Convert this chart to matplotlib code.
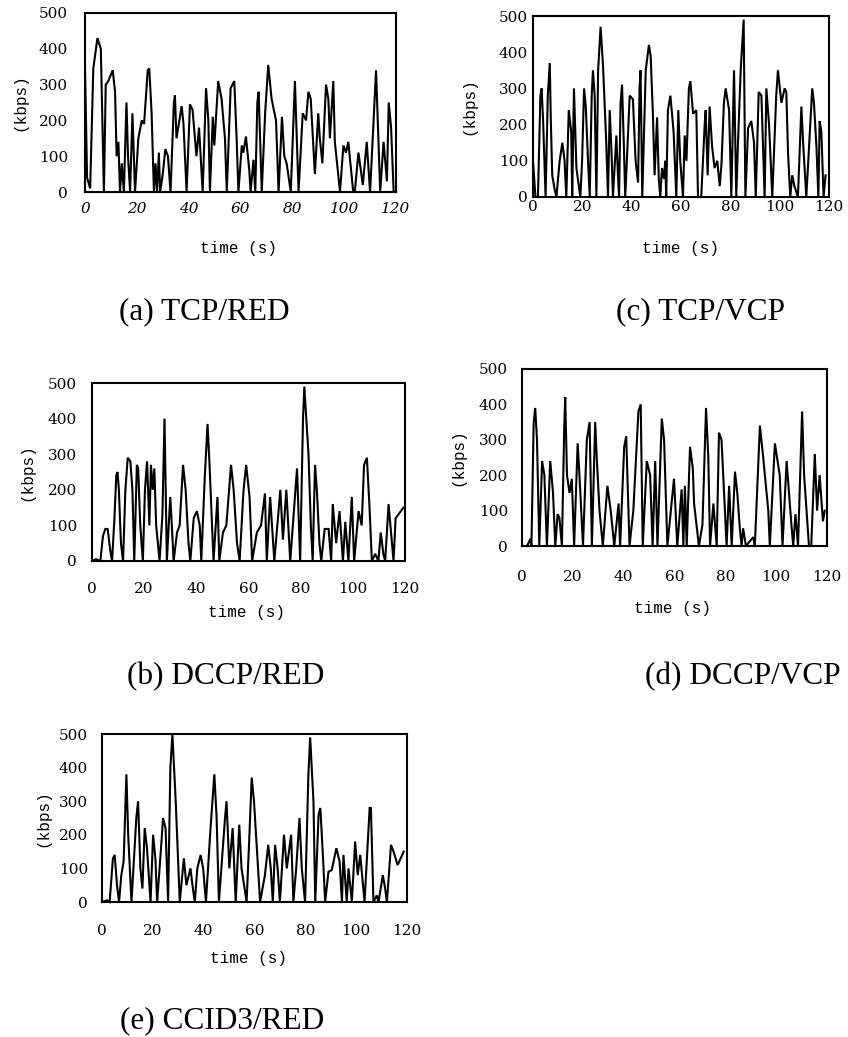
import numpy as np
import matplotlib
matplotlib.use('Agg')
import matplotlib.pyplot as plt

W, H = 848, 1037

# throughput traces, (time s, kbps) read as turning points
ta = [0, 0.8, 2, 3.2, 4.8, 6.1, 7.3, 8, 9, 10.7,
      11.6, 12.2, 12.9, 13.5, 14.2, 15, 16, 16.6, 17.4, 18.3,
      19.3, 20.6, 21.9, 22.8, 24.2, 24.8, 25.7, 26.6, 27.2, 27.8,
      28.5, 29, 30, 31, 32, 33, 34.3, 34.7, 35.3, 37.3,
      38, 39.2, 40.5, 41.5, 43, 44, 45.4, 46.7, 47.6, 48.2,
      49.3, 49.9, 51.4, 52.7, 54, 54.7, 56.2, 57.6, 58.5, 59.2,
      60.5, 61.1, 62.1, 63.4, 63.9, 65, 65.7, 66.5, 67, 68.2,
      69.5, 70.7, 72, 73.7, 74.7, 76, 76.9, 77.8, 79.4, 81,
      82.4, 84, 85.3, 86.2, 87.1, 88.7, 90, 90.6, 91.6, 93,
      93.9, 94.5, 95.8, 96.4, 98.4, 99.7, 100.7, 101.6, 103.5, 104.1,
      105.5, 107.2, 108.7, 110, 112.3, 113.9, 115.2, 116.5, 117.2, 118.1,
      119.1, 120]
va = [350, 40, 10, 345, 430, 400, 0, 300, 310, 340,
      280, 100, 140, 0, 80, 0, 250, 100, 0, 220,
      0, 150, 200, 190, 340, 345, 220, 0, 80, 0,
      110, 0, 50, 120, 100, 0, 250, 270, 150, 240,
      190, 0, 245, 230, 100, 180, 0, 290, 200, 0,
      210, 130, 310, 260, 150, 0, 290, 310, 150, 0,
      130, 110, 155, 60, 0, 90, 0, 250, 280, 0,
      220, 355, 260, 200, 0, 210, 100, 80, 0, 310,
      0, 220, 200, 280, 260, 50, 220, 150, 80, 300,
      260, 150, 310, 140, 0, 130, 110, 140, 0, 0,
      110, 20, 140, 0, 340, 0, 140, 30, 250, 180,
      0, 0]

tb = [0, 1.5, 3.2, 4.2, 5.1, 6, 7, 7.7, 8.6, 9.3,
      9.8, 10.3, 11.1, 11.9, 12.8, 13.7, 14.7, 15.5, 16.2, 17.2,
      17.7, 18.5, 19.5, 20.3, 21.1, 22, 22.6, 23.3, 23.9, 24.6,
      25.9, 27, 27.8, 28.7, 30, 30.6, 31.3, 32.6, 33.6, 34.9,
      35.9, 37, 37.7, 39, 40.2, 41.3, 41.9, 43.2, 44.3, 45,
      46.6, 48.1, 48.8, 50.2, 51.5, 53.3, 54.3, 55.6, 56.6, 58.1,
      59.1, 60.4, 61.4, 63.2, 64.8, 66.3, 67, 68.3, 69.9, 72.2,
      73.2, 74.5, 76, 78, 78.6, 79.8, 80.9, 81.4, 83, 83.9,
      84.6, 85.5, 86.2, 87.2, 87.9, 89.2, 90.7, 91.7, 92.3, 93.6,
      94.9, 96.2, 97.1, 98.3, 99.6, 100.5, 102.2, 103.4, 104.3, 105.4,
      106.4, 107.3, 108.6, 109.8, 110.7, 111.7, 112.4, 113.7, 115.6, 116.4,
      117.4, 119.4]
vb = [0, 5, 0, 70, 90, 90, 30, 0, 120, 240,
      250, 200, 50, 0, 200, 290, 280, 200, 0, 270,
      260, 100, 0, 200, 280, 100, 270, 200, 260, 100,
      0, 130, 400, 0, 180, 100, 0, 80, 100, 270,
      200, 50, 0, 120, 140, 100, 0, 230, 385, 280,
      0, 180, 0, 80, 100, 270, 200, 50, 0, 200,
      270, 180, 0, 80, 100, 190, 0, 180, 0, 200,
      60, 200, 0, 200, 260, 0, 400, 490, 300, 100,
      0, 270, 200, 50, 0, 90, 90, 0, 160, 50,
      140, 0, 110, 0, 180, 0, 140, 100, 270, 290,
      150, 0, 20, 0, 80, 20, 0, 160, 0, 120,
      130, 150]

tc = [0, 1, 2, 3, 3.5, 4.1, 4.7, 5.1, 6, 6.8,
      7.2, 7.8, 8.8, 9.5, 10.8, 11.9, 12.8, 13.5, 14.5, 15.5,
      15.9, 16.6, 17.6, 18.6, 19.2, 19.9, 20.7, 21.4, 22.3, 23,
      23.8, 24.3, 25, 25.7, 26.4, 27.4, 28.4, 29.7, 30.4, 31.1,
      31.8, 32.4, 33.8, 34.5, 34.9, 35.5, 36.1, 36.8, 37.4, 39.2,
      40.5, 41.6, 42.6, 43.2, 43.6, 44.3, 45.7, 47, 47.7, 48.6,
      49.3, 50.3, 51, 51.6, 52.3, 53.1, 53.6, 54, 54.7, 55.7,
      57, 58.1, 58.9, 59.7, 60.8, 61.5, 62.2, 63.2, 63.8, 64.9,
      66.2, 66.9, 68.2, 69.6, 70, 70.8, 71.6, 72.6, 73.6, 74.7,
      75.7, 76.4, 77.4, 78.1, 79.5, 80.4, 81.5, 82.4, 83.1, 84.2,
      85.4, 86.1, 87.2, 88.5, 89.6, 90.3, 91.5, 92.6, 93.9, 94.6,
      95.7, 97, 98.6, 99.3, 100.7, 102, 102.7, 103.4, 104.3, 105.1,
      106, 107.4, 108.8, 109.5, 110.8, 113.2, 113.9, 114.9, 115.7, 116.2,
      116.9, 117.8, 118.6]
vc = [100, 0, 0, 280, 300, 210, 80, 0, 280, 370,
      220, 60, 20, 0, 100, 150, 100, 0, 240, 180,
      0, 300, 80, 30, 0, 100, 300, 250, 100, 0,
      280, 350, 280, 0, 350, 470, 360, 150, 0, 240,
      130, 0, 170, 50, 0, 260, 310, 150, 0, 280,
      270, 100, 40, 300, 350, 0, 350, 420, 390, 230,
      60, 220, 50, 0, 80, 50, 100, 0, 240, 280,
      180, 0, 240, 100, 0, 170, 100, 300, 320, 230,
      240, 0, 0, 200, 240, 60, 250, 140, 80, 100,
      30, 90, 260, 300, 240, 0, 350, 0, 150, 350,
      490, 0, 190, 210, 150, 0, 290, 280, 0, 300,
      200, 0, 280, 350, 260, 300, 290, 120, 0, 60,
      30, 0, 250, 150, 0, 300, 260, 140, 0, 210,
      180, 0, 60]

td = [0, 2, 3.3, 3.7, 4.6, 5.2, 5.9, 6.8, 7.9, 8.8,
      9.8, 11.1, 12.2, 13.1, 14, 14.7, 15.7, 16.6, 17, 17.7,
      18.7, 19.6, 20.5, 21.9, 22.6, 24, 25.5, 26.6, 27.5, 28.8,
      29.4, 30.5, 31.8, 33.6, 34.9, 36.3, 38, 38.6, 40.2, 41,
      42.3, 43.8, 45.8, 46.7, 47.5, 49.1, 50.4, 51.4, 52.4, 53.3,
      55, 55.9, 57.2, 59.8, 61.1, 62.8, 63.5, 64.1, 64.8, 66.1,
      67.2, 67.7, 69.6, 71, 72.4, 73.3, 74, 75.3, 76.6, 77.5,
      78.5, 80.5, 81.5, 82.5, 83.8, 84.7, 85.7, 86.4, 87, 88.1,
      91, 91.6, 93.6, 94.9, 96.9, 97.5, 99.5, 101.4, 102.5, 104.1,
      106, 106.7, 107.6, 108.6, 110.2, 111, 112.9, 113.8, 115.2, 116.1,
      117.1, 118.4, 119.1]
vd = [0, 0, 20, 0, 350, 390, 300, 0, 240, 200,
      0, 240, 150, 0, 90, 80, 0, 330, 420, 200,
      150, 190, 0, 290, 200, 0, 300, 350, 0, 350,
      250, 100, 0, 170, 100, 0, 120, 0, 280, 310,
      0, 100, 380, 400, 0, 240, 200, 0, 240, 0,
      360, 300, 0, 190, 0, 160, 0, 170, 0, 280,
      220, 120, 0, 60, 390, 250, 0, 120, 0, 320,
      300, 0, 170, 0, 210, 150, 50, 0, 50, 0,
      25, 0, 340, 250, 100, 0, 290, 200, 0, 240,
      60, 0, 90, 0, 380, 200, 0, 0, 260, 100,
      200, 70, 100]

te = [0, 2, 3, 4.3, 5, 5.9, 6.7, 7.6, 8.5, 9.6,
      10.3, 11.6, 13.5, 14.2, 15.1, 15.9, 16.8, 17.7, 19.1, 20.1,
      21, 21.7, 23.4, 24, 25, 26, 26.9, 27.7, 29, 30.6,
      32.2, 33.2, 34.8, 35.6, 36.5, 37.5, 38.8, 39.8, 40.9, 42.7,
      44.2, 45.1, 46, 48.4, 49, 50.1, 51.4, 52.6, 54, 54.9,
      56.9, 58, 58.9, 59.8, 62.2, 64.1, 65.4, 66.4, 67.2, 68.1,
      69.1, 70, 71.6, 72.7, 74.4, 75.3, 76.4, 77.7, 78.6, 79.9,
      81.2, 81.9, 83.2, 83.9, 85.2, 85.9, 86.9, 87.8, 89.1, 90.4,
      92.2, 93.5, 94.4, 95, 96.3, 97, 98.3, 99.6, 100.6, 101.6,
      103.3, 105.3, 105.8, 106.8, 108.1, 108.8, 110.5, 111.4, 112.1, 113.7,
      114.7, 116.3, 118.7]
ve = [0, 5, 0, 130, 140, 50, 0, 80, 120, 380,
      200, 0, 250, 300, 100, 40, 220, 160, 0, 200,
      130, 0, 180, 250, 220, 0, 400, 500, 300, 0,
      130, 50, 100, 50, 0, 100, 140, 100, 0, 220,
      380, 250, 0, 250, 300, 100, 220, 0, 230, 100,
      0, 200, 370, 300, 0, 80, 170, 100, 0, 170,
      100, 0, 200, 100, 200, 0, 100, 250, 100, 0,
      380, 490, 300, 0, 260, 280, 140, 0, 90, 95,
      160, 120, 0, 140, 0, 100, 0, 180, 80, 140,
      0, 280, 280, 0, 20, 0, 80, 40, 0, 170,
      150, 110, 150]

xticks = [0, 20, 40, 60, 80, 100, 120]
yticks = [0, 100, 200, 300, 400, 500]
captions = ['(a) TCP/RED', '(b) DCCP/RED', '(c) TCP/VCP',
            '(d) DCCP/VCP', '(e) CCID3/RED']

tick_font = 'DejaVu Serif'
label_font = 'Liberation Mono'
cap_font = 'Liberation Serif'

fig = plt.figure(figsize=(W / 100, H / 100), dpi=100)


def fx(x):
    return x / W


def fy(y):
    return 1 - y / H


# box in pixels, tick pads (px), label centres, caption centre
panels = [
    dict(t=ta, v=va, box=(85, 396, 13, 192), xpad=10, ypad=17, italic=True,
         ylab=(20, 102), xlab=(238, 248), cap=(204, 312)),
    dict(t=tb, v=vb, box=(92, 405, 383, 561), xpad=21, ypad=15, italic=False,
         ylab=(27, 472), xlab=(247, 613), cap=(226, 677)),
    dict(t=tc, v=vc, box=(533, 829, 16, 197), xpad=3, ypad=5, italic=False,
         ylab=(469, 106), xlab=(681, 248), cap=(700, 312)),
    dict(t=td, v=vd, box=(522, 827, 369, 546), xpad=24, ypad=14, italic=False,
         ylab=(458, 457), xlab=(672, 608), cap=(743, 677)),
    dict(t=te, v=ve, box=(102, 407, 734, 902), xpad=22, ypad=14, italic=False,
         ylab=(43, 818), xlab=(248, 959), cap=(222, 1021)),
]

for p, cap in zip(panels, captions):
    l, r, top, bot = p['box']
    ax = fig.add_axes([fx(l), fy(bot), (r - l) / W, (bot - top) / H])
    ax.plot(p['t'], p['v'], color='black', lw=1.5, clip_on=False,
            solid_joinstyle='miter')
    ax.set_xlim(0, 120)
    ax.set_ylim(0, 500)
    ax.set_xticks(xticks)
    ax.set_yticks(yticks)
    for s in ax.spines.values():
        s.set_linewidth(1.5)
    ax.tick_params(axis='x', length=0, pad=p['xpad'] * 0.72)
    ax.tick_params(axis='y', length=0, pad=p['ypad'] * 0.72)
    for lab in ax.get_xticklabels():
        lab.set_fontfamily(tick_font)
        lab.set_fontsize(11)
        if p['italic']:
            lab.set_fontstyle('italic')
    for lab in ax.get_yticklabels():
        lab.set_fontfamily(tick_font)
        lab.set_fontsize(11)

    fig.text(fx(p['ylab'][0]), fy(p['ylab'][1]), '(kbps)', rotation=90,
             ha='center', va='center', family=label_font, fontsize=11.5)
    fig.text(fx(p['xlab'][0]), fy(p['xlab'][1]), 'time (s)',
             ha='center', va='center', family=label_font, fontsize=11.5)
    fig.text(fx(p['cap'][0]), fy(p['cap'][1]), cap,
             ha='center', va='center', family=cap_font, fontsize=22.5)

fig.savefig('out.png', dpi=100)
